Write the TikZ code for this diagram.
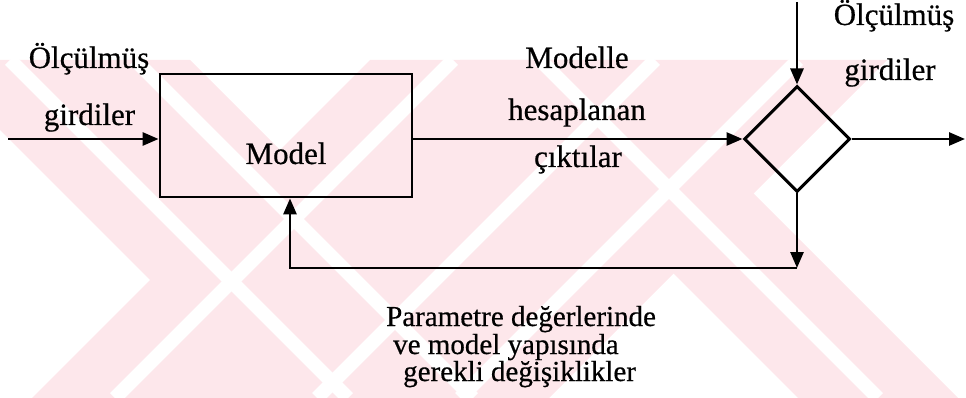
\documentclass[tikz,border=0pt]{standalone}
\usepackage{fontspec}
\setmainfont{Liberation Serif}[FakeBold=0.5]
\usepackage{tikz}
\usetikzlibrary{positioning, shapes.geometric, calc, arrows.meta}
\definecolor{wmpink}{RGB}{253,231,235}

\begin{document}
\begin{tikzpicture}[x=1pt, y=-1pt,
	every node/.style={font=\fontsize{31}{37}\selectfont},
	blok/.style={draw, line width=2.8pt, minimum width=252pt, minimum height=123pt, inner sep=0pt},
	karar/.style={draw, diamond, line width=3pt, minimum size=106pt, inner sep=0pt},
	yazi/.style={anchor=base, inner sep=0pt},
	altyazi/.style={anchor=base west, inner sep=0pt, font=\fontsize{29}{34}\selectfont},
	ok/.style={line width=2.7pt, -{Triangle[length=16pt, width=13pt]}}]
		
		\useasboundingbox (0,0) rectangle (966,398);
		
		%//pale stripes behind the diagram
		\begin{scope}
		\clip (0,60) rectangle (966,398);
		\fill[wmpink] (370,60) -- (887,60) -- (549,398) -- (32,398) -- cycle;
		\fill[wmpink] (-70,60) -- (190,60) -- (528,398) -- (268,398) -- cycle;
		\fill[wmpink] (460,60) -- (620,60) -- (958,398) -- (798,398) -- cycle;
		\foreach \c in {513,715,858}
		\draw[white, line width=14pt] (\c-60,60) -- (\c-398,398);
		\foreach \c in {-50,75,480}
		\draw[white, line width=14pt] (\c+60,60) -- (\c+398,398);
		\end{scope}
		
		%//blocks
		\node[blok] (model) at (286,135.5) {};
		\node[yazi] (modelyazi) at (286,164) {Model};
		\node[karar] (fark) at (797,139) {};
		
		\coordinate (giris) at (8,139);
		\coordinate (ust) at (797,2);
		\coordinate (cikis) at (965,139);
		\coordinate (altsag) at (797,268);
		\coordinate (altsol) at (290,268);
		
		%//connections
		\draw[ok] (giris) -- (giris -| model.west);
		\draw[ok] (model.east |- fark.west) -- (fark.west);
		\draw[ok] (ust) -- (fark.north);
		\draw[ok] (fark.east) -- (cikis);
		\draw[ok] (fark.south) -- (altsag);
		\draw[ok] (altsag) -- (altsol) -- (altsol |- model.south);
		
		%//labels
		\node[yazi] (olc1) at (89,68) {Ölçülmüş};
		\node[yazi] (gir1) at (89.5,125) {girdiler};
		\node[yazi] (mod1) at (577,68) {Modelle};
		\node[yazi] (mod2) at (577,120) {hesaplanan};
		\node[yazi] (mod3) at (578,167) {çıktılar};
		\node[yazi] (olc2) at (894,25) {Ölçülmüş};
		\node[yazi] (gir2) at (890,80) {girdiler};
		
		\node[altyazi] (deg1) at (386,326) {Parametre değerlerinde};
		\node[altyazi] (deg2) at (393,354) {ve model yapısında};
		\node[altyazi] (deg3) at (403,381) {gerekli değişiklikler};
		\end{tikzpicture}
\end{document}
